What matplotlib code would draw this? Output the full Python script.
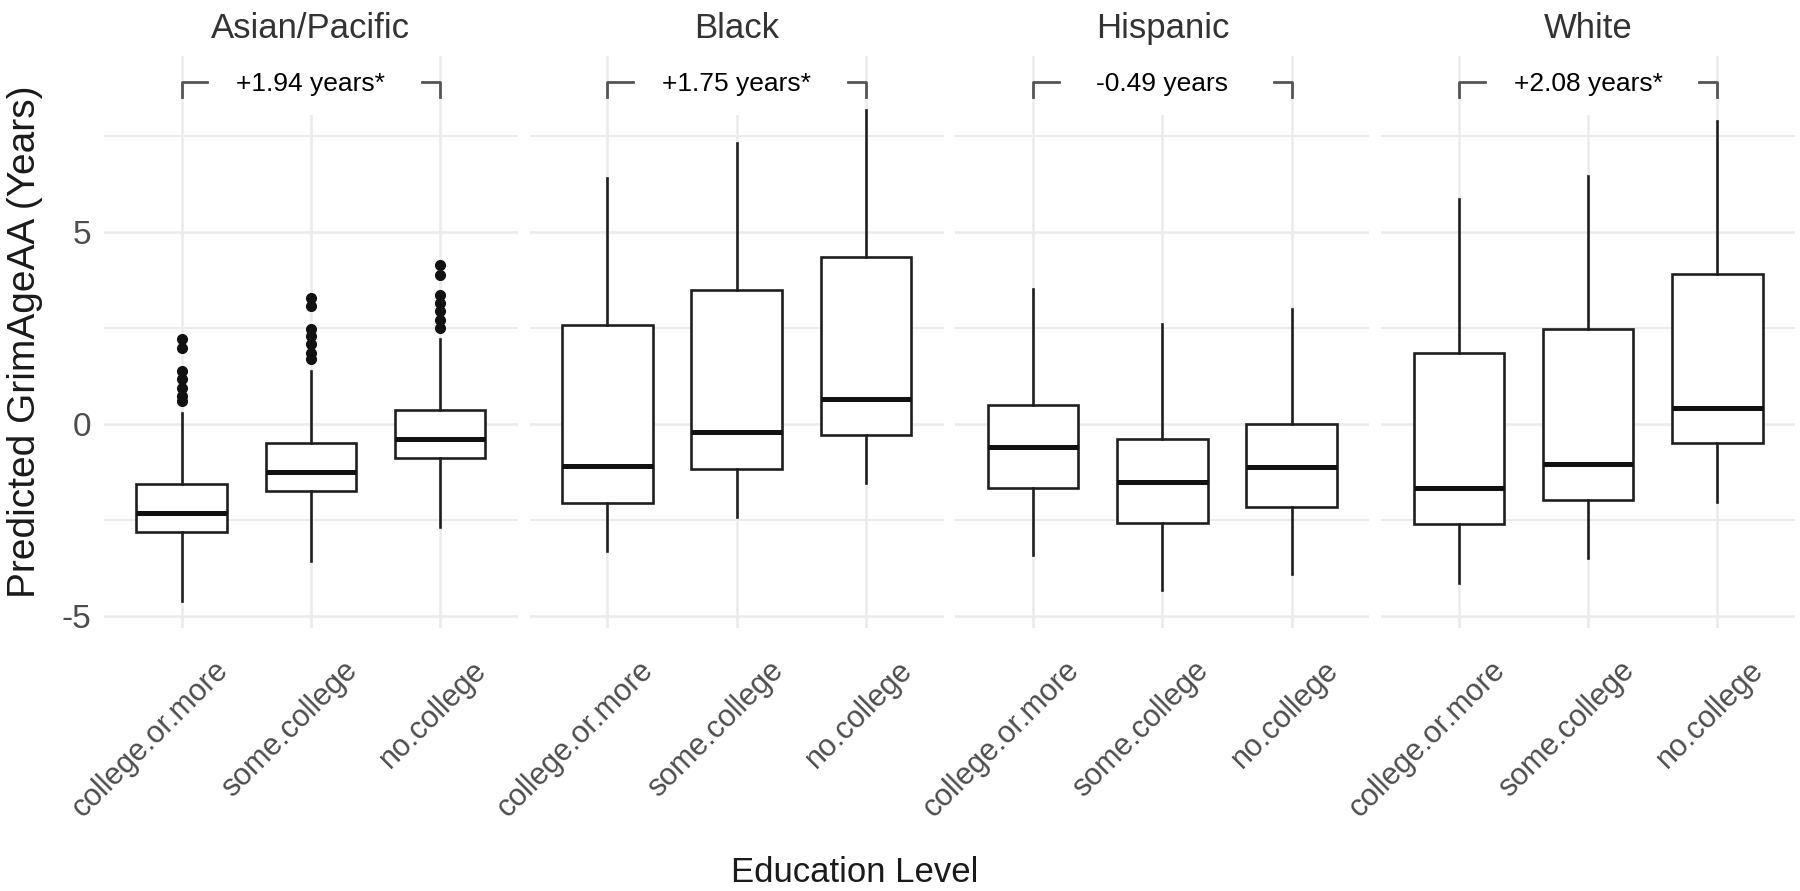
import numpy as np
import matplotlib.pyplot as plt
from matplotlib.patches import Rectangle
from matplotlib.transforms import ScaledTranslation

plt.rcParams['font.family'] = ['Liberation Sans', 'DejaVu Sans']
plt.rcParams['axes.unicode_minus'] = False

#-----------------------------------------------------------------
groups = ['Asian/Pacific', 'Black', 'Hispanic', 'White']
levels = ['college.or.more', 'some.college', 'no.college']
diffs = ['+1.94 years*', '+1.75 years*', '-0.49 years', '+2.08 years*']

# box summaries, one row per group, one column per education level
lower = [[-4.59, -3.56, -2.68], [-3.31, -2.40, -1.54], [-3.40, -4.30, -3.90], [-4.12, -3.47, -2.02]]
q1 = [[-2.81, -1.73, -0.89], [-2.05, -1.16, -0.28], [-1.65, -2.56, -2.15], [-2.59, -1.97, -0.49]]
median = [[-2.31, -1.23, -0.39], [-1.08, -0.19, 0.67], [-0.60, -1.51, -1.11], [-1.67, -1.03, 0.42]]
q3 = [[-1.55, -0.48, 0.38], [2.58, 3.49, 4.34], [0.51, -0.39, 0.00], [1.85, 2.47, 3.92]]
upper = [[0.30, 1.38, 2.21], [6.42, 7.31, 8.17], [3.52, 2.60, 3.01], [5.85, 6.47, 7.90]]
outliers = [
    [[2.21, 1.99, 1.38, 1.17, 0.95, 0.74, 0.61],
     [3.29, 3.07, 2.47, 2.29, 2.08, 1.86, 1.69],
     [4.15, 3.89, 3.37, 3.16, 2.94, 2.72, 2.51]],
    [[], [], []],
    [[], [], []],
    [[], [], []],
]
#-----------------------------------------------------------------
bracket_y = 8.91
bracket_drop = 0.39
gap_left, gap_right = 0.2, 1.86
grid_col = '#EBEBEB'
line_col = '#1f1f1f'

fig, axes = plt.subplots(1, 4, figsize=(18, 8.91), dpi=100, sharey=True)
fig.subplots_adjust(left=0.0578, right=0.9972, top=0.9371, bottom=0.2952, wspace=0.029)

for g, ax in enumerate(axes):
    stats = []
    for i in range(3):
        stats.append(dict(whislo=lower[g][i], q1=q1[g][i], med=median[g][i],
                          q3=q3[g][i], whishi=upper[g][i], fliers=outliers[g][i]))
    ax.bxp(stats, positions=[0, 1, 2], widths=0.7, showcaps=False, patch_artist=True,
           boxprops=dict(facecolor='white', edgecolor=line_col, linewidth=1.9),
           medianprops=dict(color='#111111', linewidth=3.6, solid_capstyle='butt'),
           whiskerprops=dict(color=line_col, linewidth=1.9),
           flierprops=dict(marker='o', markerfacecolor='#111111', markeredgecolor='#111111',
                           markersize=7))

    ax.set_xlim(-0.6, 2.6)
    ax.set_ylim(-5.3, 9.58)
    ax.set_yticks([-5, 0, 5])
    ax.set_yticks([-2.5, 2.5, 7.5], minor=True)
    ax.set_xticks([0, 1, 2])
    ax.set_xticklabels([])
    ax.set_axisbelow(True)
    ax.grid(True, which='major', color=grid_col, linewidth=1.8)
    ax.grid(True, which='minor', axis='y', color=grid_col, linewidth=1.4)
    for s in ax.spines.values():
        s.set_visible(False)
    ax.tick_params(which='both', length=0)
    ax.tick_params(axis='y', labelsize=24, labelcolor='#4D4D4D', pad=9.5)

    # white label patch hiding the top of the middle grid line
    ax.add_patch(Rectangle((gap_left, 8.05), gap_right - gap_left, 2.0,
                           facecolor='white', edgecolor='none', zorder=1))
    ax.plot([0, 0, gap_left], [bracket_y - bracket_drop, bracket_y, bracket_y],
            color='#555555', linewidth=2, zorder=2)
    ax.plot([gap_right, 2, 2], [bracket_y, bracket_y, bracket_y - bracket_drop],
            color='#555555', linewidth=2, zorder=2)
    ax.text(1, bracket_y - 0.05, diffs[g], ha='center', va='center', fontsize=19,
            color='black', zorder=3)

    ax.text(0.5, 1 + 28 / 572, groups[g], transform=ax.transAxes, ha='center',
            va='center', fontsize=25, color='#333333')

    offs = ax.get_xaxis_transform() + ScaledTranslation(0.42, -0.38, fig.dpi_scale_trans)
    for i, lab in enumerate(levels):
        ax.text(i, 0, lab, transform=offs, rotation=45, rotation_mode='anchor',
                ha='right', va='center', fontsize=22, color='#4D4D4D')

fig.text(25 / 1800, 1 - 342 / 891, 'Predicted GrimAgeAA (Years)', rotation=90,
         ha='center', va='center', fontsize=28, color='#1a1a1a')
fig.text(855 / 1800, 1 - 872 / 891, 'Education Level', ha='center', va='center',
         fontsize=25, color='#1a1a1a')

fig.savefig('out.png', dpi=100, facecolor='white')
